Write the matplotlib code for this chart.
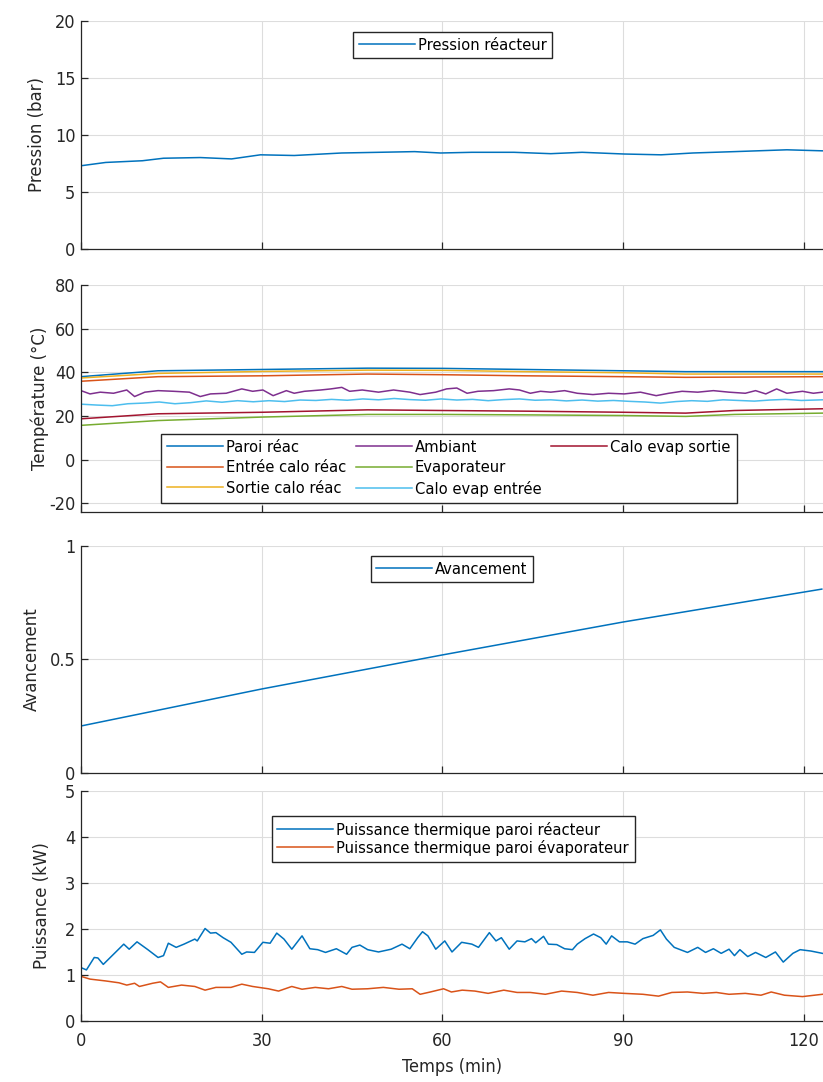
import numpy as np
import matplotlib
matplotlib.use("Agg")
import matplotlib.pyplot as plt
from matplotlib.lines import Line2D
from matplotlib import font_manager

plt.rcParams["axes.unicode_minus"] = False

# Farben (MATLAB Standard)
c_blue = "#0072BD"
c_orange = "#D95319"
c_yellow = "#EDB120"
c_purple = "#7E2F8E"
c_green = "#77AC30"
c_cyan = "#4DBEEE"
c_red = "#A2142F"

# schmale Schrift, falls vorhanden
cond = [f for f in font_manager.fontManager.ttflist if "Condensed" in f.fname or "Narrow" in f.fname]
narrow_stretch = "condensed" if cond else "normal"
narrow = ["DejaVu Sans"]

# --- Pression
t_pression = [0, 4.1, 10.2, 13.7, 19.8, 25.0, 29.8, 35.4, 43.3, 49.4, 55.4, 59.7, 64.9,
              71.9, 78.0, 83.2, 90.2, 96.3, 101.6, 108.5, 117.2, 123.1]
pression = [7.30, 7.59, 7.74, 7.96, 8.02, 7.90, 8.26, 8.20, 8.42, 8.48, 8.54, 8.42, 8.48,
            8.48, 8.36, 8.48, 8.33, 8.26, 8.42, 8.54, 8.70, 8.61]

# --- Temperaturen
t_temp = [0, 12.8, 30.2, 47.6, 60.0, 73.7, 90.0, 100.4, 108.5, 123.1]
paroi_reac = [38.0, 40.7, 41.3, 41.9, 41.8, 41.3, 40.7, 40.3, 40.3, 40.3]
sortie_calo = [37.4, 39.5, 40.4, 41.0, 40.9, 40.3, 39.8, 39.2, 39.2, 39.2]
entree_calo = [35.9, 38.0, 38.4, 39.2, 38.9, 38.4, 38.0, 37.7, 37.8, 38.0]
evap_sortie = [18.7, 21.0, 21.7, 22.8, 22.5, 22.2, 21.7, 21.3, 22.5, 23.3]
evaporateur = [15.7, 17.9, 19.5, 20.7, 20.7, 20.5, 20.2, 19.8, 20.7, 21.3]

t_evap_in = [0, 2.6, 5.2, 7.8, 10.4, 13.0, 15.6, 18.2, 20.8, 23.4, 26.0, 28.6, 31.2,
             33.8, 36.4, 39.0, 41.6, 44.2, 46.8, 49.4, 52.0, 54.6, 57.2, 59.8, 62.4, 65.0,
             67.6, 70.2, 72.8, 75.4, 78.0, 80.6, 83.2, 85.8, 88.4, 91.0, 93.6, 96.2, 98.8,
             101.4, 104.0, 106.6, 109.2, 111.8, 114.4, 117.0, 119.6, 123.1]
evap_entree = [25.4, 25.0, 24.7, 25.6, 25.9, 26.4, 25.6, 26.1, 26.9, 26.3, 27.0, 26.5,
               27.0, 26.6, 27.3, 27.1, 27.6, 27.2, 27.8, 27.4, 28.0, 27.5, 27.2, 27.8,
               27.3, 27.6, 27.0, 27.5, 27.8, 27.2, 27.4, 26.9, 27.3, 26.8, 27.1, 26.7,
               26.4, 25.9, 26.6, 27.0, 26.7, 27.4, 27.1, 26.8, 27.3, 27.6, 27.1, 27.4]

t_ambiant = [0, 1.5, 3.2, 5.4, 7.6, 8.9, 10.6, 12.8, 15.4, 18.0, 19.8, 21.5, 24.1, 26.7,
             28.5, 30.2, 31.9, 34.1, 35.4, 37.1, 39.8, 41.5, 43.3, 44.6, 46.7, 49.4, 51.9,
             54.6, 56.3, 58.9, 60.7, 62.4, 64.1, 65.9, 68.5, 71.1, 72.8, 74.6, 76.3, 78.0,
             80.3, 82.4, 85.0, 87.6, 90.2, 92.9, 95.5, 97.6, 99.8, 102.4, 105.0, 107.6,
             110.3, 112.0, 113.7, 115.5, 117.2, 119.8, 121.6, 123.1]
ambiant = [31.6, 30.1, 30.9, 30.4, 31.9, 28.9, 30.9, 31.6, 31.3, 30.9, 28.9, 30.1, 30.4,
           32.4, 31.3, 31.9, 29.3, 31.6, 30.4, 31.3, 31.9, 32.4, 33.1, 31.3, 31.9, 30.9,
           31.9, 30.9, 29.8, 30.9, 32.4, 32.8, 30.4, 31.3, 31.6, 32.4, 31.9, 30.4, 31.3,
           30.9, 31.6, 30.4, 29.8, 30.4, 30.1, 30.9, 29.3, 30.4, 31.3, 30.9, 31.6, 30.9,
           30.4, 31.6, 30.1, 32.4, 30.4, 31.3, 30.4, 30.9]

# --- Avancement
t_avance = [0, 30, 60, 90, 123]
avancement = [0.207, 0.37, 0.52, 0.665, 0.81]

# --- Puissance
t_reac = [0, 0.9, 2.2, 2.8, 3.7, 5.4, 7.1, 8.0, 9.3, 11.1, 12.8, 13.7, 14.5, 15.8, 17.1,
          18.9, 19.3, 20.6, 21.5, 22.4, 23.6, 24.9, 26.7, 27.5, 28.8, 30.2, 31.4, 32.5,
          33.7, 35.0, 36.7, 38.0, 39.3, 40.6, 42.4, 44.1, 45.0, 46.3, 47.6, 49.4, 51.5,
          53.3, 54.6, 55.9, 56.7, 57.6, 58.9, 60.4, 61.6, 63.2, 64.9, 66.0, 67.8, 68.9,
          69.8, 71.1, 72.4, 73.7, 74.8, 75.5, 76.8, 77.6, 79.0, 80.3, 81.6, 82.4, 83.7,
          85.1, 86.3, 87.2, 88.1, 89.4, 90.7, 92.0, 93.3, 95.0, 96.2, 97.2, 98.5, 100.7,
          102.4, 103.7, 105.0, 106.3, 107.6, 108.5, 109.4, 110.7, 112.0, 113.7, 115.3,
          116.6, 118.2, 119.4, 121.2, 123.1]
p_reac = [1.16, 1.11, 1.38, 1.37, 1.23, 1.45, 1.67, 1.56, 1.72, 1.55, 1.38, 1.42, 1.69,
          1.60, 1.67, 1.78, 1.74, 2.01, 1.91, 1.92, 1.81, 1.71, 1.45, 1.50, 1.49, 1.71,
          1.69, 1.91, 1.78, 1.56, 1.85, 1.57, 1.55, 1.49, 1.57, 1.45, 1.60, 1.65, 1.55,
          1.50, 1.56, 1.67, 1.57, 1.81, 1.94, 1.85, 1.56, 1.74, 1.50, 1.71, 1.67, 1.60,
          1.92, 1.74, 1.81, 1.56, 1.74, 1.72, 1.79, 1.70, 1.84, 1.67, 1.66, 1.57, 1.55,
          1.67, 1.79, 1.89, 1.81, 1.67, 1.85, 1.72, 1.72, 1.67, 1.79, 1.86, 1.98, 1.78,
          1.60, 1.49, 1.60, 1.49, 1.57, 1.47, 1.56, 1.42, 1.55, 1.40, 1.49, 1.38, 1.50,
          1.28, 1.47, 1.55, 1.52, 1.47]

t_evap = [0, 1.5, 4.1, 6.3, 7.6, 8.9, 9.7, 11.9, 13.2, 14.5, 16.7, 18.9, 20.6, 22.4,
          24.9, 26.7, 28.5, 31.1, 32.8, 35.0, 36.7, 38.9, 41.1, 43.3, 45.0, 47.6, 50.2,
          52.8, 55.0, 56.3, 58.0, 60.2, 61.5, 63.3, 65.4, 67.6, 70.2, 72.4, 74.6, 77.1,
          79.8, 82.4, 85.0, 87.6, 90.2, 93.3, 95.9, 98.1, 100.7, 103.3, 105.5, 107.6,
          110.3, 112.9, 114.6, 116.8, 119.8, 123.1]
p_evap = [0.97, 0.91, 0.87, 0.83, 0.78, 0.82, 0.75, 0.82, 0.85, 0.73, 0.78, 0.75, 0.67,
          0.73, 0.73, 0.80, 0.75, 0.70, 0.65, 0.75, 0.69, 0.73, 0.70, 0.75, 0.69, 0.70,
          0.73, 0.69, 0.70, 0.58, 0.63, 0.70, 0.63, 0.67, 0.65, 0.60, 0.67, 0.62, 0.62,
          0.58, 0.65, 0.62, 0.56, 0.62, 0.60, 0.58, 0.54, 0.62, 0.63, 0.60, 0.62, 0.58,
          0.60, 0.56, 0.63, 0.56, 0.53, 0.58]

xticks = [0, 30, 60, 90, 120]

fig = plt.figure(figsize=(8.23, 10.82), dpi=100)
L, W = 81 / 823, 1 - 81 / 823
ax1 = fig.add_axes([L, 0.7699, W, 0.2107])
ax2 = fig.add_axes([L, 0.5268, W, 0.2098])
ax3 = fig.add_axes([L, 0.2856, W, 0.2098])
ax4 = fig.add_axes([L, 0.0564, W, 0.2126])


def style(ax):
    ax.set_xlim(0, 123.2)
    ax.set_xticks(xticks)
    ax.grid(True, color="#dddddd", lw=0.8)
    ax.set_axisbelow(True)
    for s in ["top", "right"]:
        ax.spines[s].set_visible(False)
    for s in ["left", "bottom"]:
        ax.spines[s].set_color("#262626")
        ax.spines[s].set_linewidth(0.9)
    ax.tick_params(direction="in", length=5, width=0.9, color="#262626",
                   labelsize=13, labelcolor="#262626", pad=4)
    for lab in ax.get_xticklabels() + ax.get_yticklabels():
        lab.set_family(narrow)
        lab.set_stretch(narrow_stretch)


def leg(ax, handles=None, labels=None, **kw):
    if handles is None:
        handles, labels = ax.get_legend_handles_labels()
    lg = ax.legend(handles, labels,
                   prop={"family": narrow, "size": 11.8, "stretch": narrow_stretch},
                   fancybox=False, edgecolor="#262626", framealpha=1, handlelength=3.4,
                   handletextpad=0.2, borderpad=0.35, borderaxespad=0, **kw)
    lg.get_frame().set_linewidth(1.0)
    return lg


ylab = dict(fontsize=12, color="#262626", family="DejaVu Sans")

# Panel 1
ax1.plot(t_pression, pression, color=c_blue, lw=1.1, label="Pression réacteur")
ax1.set_ylim(0, 20)
ax1.set_yticks([0, 5, 10, 15, 20])
style(ax1)
ax1.set_xticklabels([])
ax1.set_ylabel("Pression (bar)", labelpad=6, **ylab)
leg(ax1, loc="upper center", bbox_to_anchor=(0.501, 0.952))

# Panel 2
ax2.plot(t_temp, paroi_reac, color=c_blue, lw=1.1, label="Paroi réac")
ax2.plot(t_temp, entree_calo, color=c_orange, lw=1.1, label="Entrée calo réac")
ax2.plot(t_temp, sortie_calo, color=c_yellow, lw=1.1, label="Sortie calo réac")
ax2.plot(t_ambiant, ambiant, color=c_purple, lw=1.1, label="Ambiant")
ax2.plot(t_temp, evaporateur, color=c_green, lw=1.1, label="Evaporateur")
ax2.plot(t_evap_in, evap_entree, color=c_cyan, lw=1.1, label="Calo evap entrée")
ax2.plot(t_temp, evap_sortie, color=c_red, lw=1.1, label="Calo evap sortie")
ax2.set_ylim(-24, 80)
ax2.set_yticks([-20, 0, 20, 40, 60, 80])
style(ax2)
ax2.set_xticklabels([])
ax2.set_ylabel("Température (°C)", labelpad=0, **ylab)
h, l = ax2.get_legend_handles_labels()
blank = Line2D([], [], color="none")
h = h + [blank, blank]
l = l + ["", ""]
leg(ax2, h, l, loc="lower left", bbox_to_anchor=(0.108, 0.04), ncol=3, columnspacing=0.6,
    labelspacing=0.35)

# Panel 3
ax3.plot(t_avance, avancement, color=c_blue, lw=1.1, label="Avancement")
ax3.set_ylim(0, 1)
ax3.set_yticks([0, 0.5, 1])
ax3.set_yticklabels(["0", "0.5", "1"])
style(ax3)
ax3.set_xticklabels([])
ax3.set_ylabel("Avancement", labelpad=6, **ylab)
leg(ax3, loc="upper center", bbox_to_anchor=(0.50, 0.956))

# Panel 4
ax4.plot(t_reac, p_reac, color=c_blue, lw=1.1, label="Puissance thermique paroi réacteur")
ax4.plot(t_evap, p_evap, color=c_orange, lw=1.1, label="Puissance thermique paroi évaporateur")
ax4.set_ylim(0, 5)
ax4.set_yticks([0, 1, 2, 3, 4, 5])
style(ax4)
ax4.tick_params(axis="x", pad=8)
ax4.set_ylabel("Puissance (kW)", labelpad=10, **ylab)
ax4.set_xlabel("Temps (min)", fontsize=13, color="#262626", family=narrow,
               fontstretch=narrow_stretch, labelpad=6)
leg(ax4, loc="upper left", bbox_to_anchor=(0.257, 0.891), labelspacing=0.15)

fig.savefig("out.png", dpi=100)
